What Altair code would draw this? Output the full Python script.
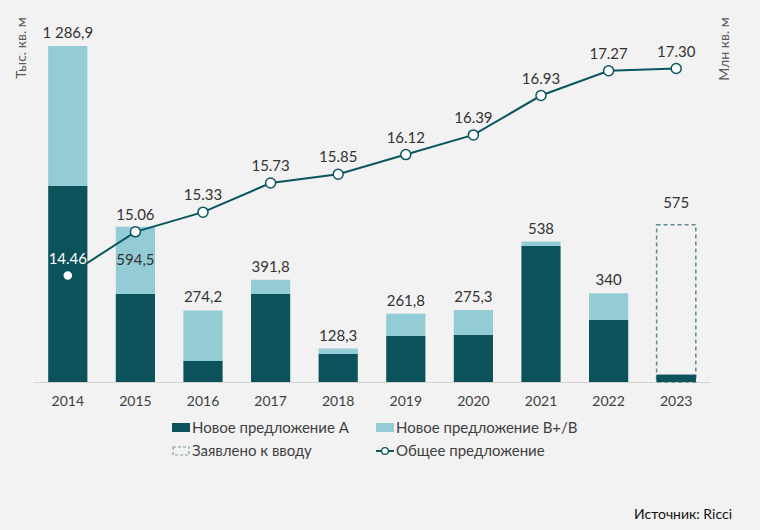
import altair as alt
import pandas as pd

years = ["2014", "2015", "2016", "2017", "2018", "2019", "2020", "2021", "2022", "2023"]
new_a = [751, 337, 80, 337, 107, 176, 180, 521, 237, 28]
new_b = [535.9, 257.5, 194.2, 54.8, 21.3, 85.8, 95.3, 17, 103, 0]
declared_box = [None, None, None, None, None, None, None, None, None, 602]
bar_tops = [1286.9, 594.5, 274.2, 391.8, 128.3, 261.8, 275.3, 538, 340, 602]
bar_labels = ["1 286,9", "594,5", "274,2", "391,8", "128,3", "261,8", "275,3", "538", "340", "575"]
total_supply = [14.46, 15.06, 15.33, 15.73, 15.85, 16.12, 16.39, 16.93, 17.27, 17.30]
supply_labels = ["14.46", "15.06", "15.33", "15.73", "15.85", "16.12", "16.39", "16.93", "17.27", "17.30"]

DARK = "#0b525b"
LIGHT = "#94ccd5"
LINE = "#0b5560"
TXT = "#404040"
FONT = "Lato"

df = pd.DataFrame({
    "year": years,
    "a": new_a,
    "ab": [a + b for a, b in zip(new_a, new_b)],
    "declared": declared_box,
    "top": bar_tops,
    "label": bar_labels,
    "supply": total_supply,
    "slabel": supply_labels,
})

W, H = 676, 362
LEFT_MAX = 1386.5
RIGHT_MIN, RIGHT_MAX = 13.0, 17.966

x_enc = alt.X("year:N", sort=years,
              scale=alt.Scale(paddingInner=0.42, paddingOuter=0.21),
              axis=alt.Axis(title=None, labelAngle=0, ticks=False, labelFontSize=14,
                            labelColor=TXT, labelFont=FONT, labelPadding=12,
                            domainColor="#d4d4d4", grid=False))
yl = alt.Scale(domain=[0, LEFT_MAX])
yr = alt.Scale(domain=[RIGHT_MIN, RIGHT_MAX])

base = alt.Chart(df)

bar_a = base.mark_bar(color=DARK).encode(
    x=x_enc, y=alt.Y("a:Q", scale=yl, axis=None))
bar_b = base.mark_bar(color=LIGHT).encode(
    x=x_enc, y=alt.Y("a:Q", scale=yl, axis=None), y2="ab:Q")
bar_decl = base.transform_filter("isValid(datum.declared)").mark_bar(
    fill="transparent", stroke="#5f8b92", strokeDash=[4, 3], strokeWidth=1.5
).encode(x=x_enc, y=alt.Y("declared:Q", scale=yl, axis=None))
bar_a_top = base.transform_filter("isValid(datum.declared)").mark_bar(color=DARK).encode(
    x=x_enc, y=alt.Y("a:Q", scale=yl, axis=None))

lab_top = base.transform_filter("datum.year != '2015' && datum.year != '2023'").mark_text(
    baseline="bottom", dy=-5, fontSize=15, font=FONT, color="#333333"
).encode(x=x_enc, y=alt.Y("top:Q", scale=yl, axis=None), text="label:N")
lab_decl = base.transform_filter("datum.year == '2023'").mark_text(
    baseline="bottom", dy=-14, fontSize=15, font=FONT, color="#333333"
).encode(x=x_enc, y=alt.Y("top:Q", scale=yl, axis=None), text="label:N")
lab_in = base.transform_filter("datum.year == '2015'").mark_text(
    baseline="middle", dy=33, fontSize=15, font=FONT, color="#333333"
).encode(x=x_enc, y=alt.Y("top:Q", scale=yl, axis=None), text="label:N")

line = base.mark_line(color=LINE, strokeWidth=2).encode(
    x=x_enc, y=alt.Y("supply:Q", scale=yr, axis=None))
pts = base.mark_point(filled=True, fill="white", stroke=LINE, strokeWidth=1.5,
                      size=100, opacity=1).encode(
    x=x_enc, y=alt.Y("supply:Q", scale=yr, axis=None))
slab = base.mark_text(baseline="middle", dy=-17, fontSize=15, font=FONT).encode(
    x=x_enc, y=alt.Y("supply:Q", scale=yr, axis=None), text="slabel:N",
    color=alt.condition("datum.year == '2014'", alt.value("white"), alt.value("#333333")))

def txt(s, x, y, **kw):
    return alt.Chart(pd.DataFrame({"t": [s]})).mark_text(font=FONT, **kw).encode(
        x=alt.value(x), y=alt.value(y), text="t:N")

ox, oy = 34, 20
left_title = txt("Тыс. кв. м", 22 - ox, 48 - oy, angle=270, fontSize=14, color="#595959",
                 align="center", baseline="middle")
right_title = txt("Млн кв. м", 725 - ox, 49 - oy, angle=270, fontSize=14, color="#595959",
                  align="center", baseline="middle")

def rect(x1, x2, y1, y2, **kw):
    return alt.Chart(pd.DataFrame({"t": [0]})).mark_rect(**kw).encode(
        x=alt.value(x1 - ox), x2=alt.value(x2 - ox), y=alt.value(y1 - oy), y2=alt.value(y2 - oy))

leg1 = rect(172, 190, 423, 432, color=DARK)
leg2 = rect(376, 394, 423, 432, color=LIGHT)
leg3 = rect(173, 189, 447, 455, fill="transparent", stroke="#7f9ea3", strokeDash=[3, 2], strokeWidth=1.2)
leg4 = alt.Chart(pd.DataFrame({"t": [0]})).mark_rule(color=LINE, strokeWidth=2).encode(
    x=alt.value(376 - ox), x2=alt.value(394 - ox), y=alt.value(451 - oy))
leg4p = alt.Chart(pd.DataFrame({"t": [0]})).mark_point(
    filled=True, fill="white", stroke=LINE, strokeWidth=1.3, size=45, opacity=1).encode(
    x=alt.value(385 - ox), y=alt.value(451 - oy))
lt1 = txt("Новое предложение А", 192 - ox, 428 - oy, fontSize=15, color=TXT, align="left", baseline="middle")
lt2 = txt("Новое предложение В+/В", 396 - ox, 428 - oy, fontSize=15, color=TXT, align="left", baseline="middle")
lt3 = txt("Заявлено к вводу", 192 - ox, 451 - oy, fontSize=15, color=TXT, align="left", baseline="middle")
lt4 = txt("Общее предложение", 396 - ox, 451 - oy, fontSize=15, color=TXT, align="left", baseline="middle")
source = txt("Источник: Ricci", 732 - ox, 515 - oy, fontSize=14, color="#111111", align="right", baseline="middle")

chart = alt.layer(
    bar_a, bar_b, bar_decl, bar_a_top, lab_top, lab_decl, lab_in, line, pts, slab,
    left_title, right_title, leg1, leg2, leg3, leg4, leg4p, lt1, lt2, lt3, lt4, source
).resolve_scale(y="independent").properties(
    width=W, height=H,
    autosize=alt.AutoSizeParams(type="none"),
    padding={"left": ox, "top": oy, "right": 760 - ox - W, "bottom": 530 - oy - H},
    background="#f2f2f2",
).configure_view(stroke=None)

chart.save("out.html", embed_options={"renderer": "svg", "actions": False})
